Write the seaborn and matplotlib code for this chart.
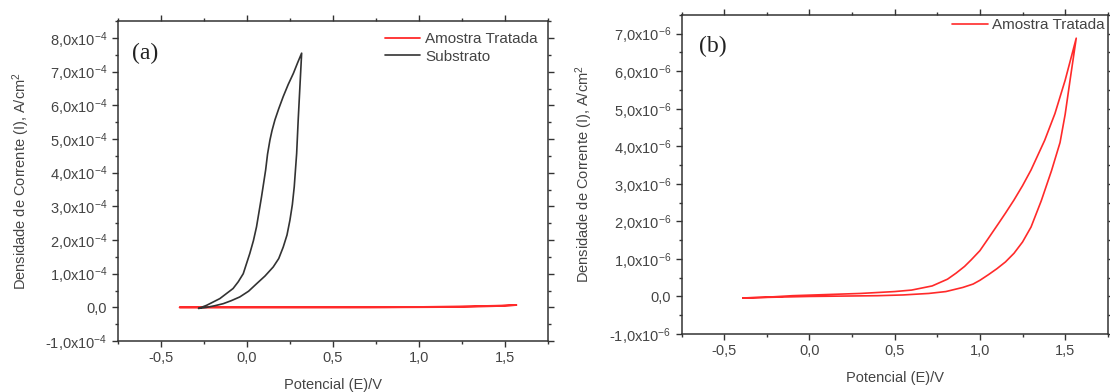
import numpy as np
import pandas as pd
import matplotlib
matplotlib.use("Agg")
import matplotlib.pyplot as plt
import seaborn as sns
from matplotlib.ticker import MultipleLocator, FixedLocator, FixedFormatter

# ---- data ----
# Amostra Tratada (A/cm^2, in units of 1e-6), forward then reverse scan
trat_E_fwd = [-0.39, -0.2, 0.0, 0.2, 0.4, 0.55, 0.7, 0.8, 0.9, 0.96, 1.0, 1.05, 1.1, 1.15, 1.2, 1.25, 1.3, 1.36, 1.42, 1.47, 1.50, 1.53, 1.565]
trat_I_fwd = [-0.04, -0.02, 0.0, 0.01, 0.02, 0.04, 0.08, 0.13, 0.24, 0.33, 0.43, 0.58, 0.74, 0.92, 1.15, 1.45, 1.85, 2.55, 3.35, 4.1, 4.85, 5.8, 6.88]
trat_E_rev = [1.565, 1.50, 1.44, 1.38, 1.30, 1.25, 1.20, 1.15, 1.11, 1.05, 1.0, 0.95, 0.91, 0.86, 0.81, 0.72, 0.6, 0.5, 0.3, 0.1, -0.1, -0.25, -0.39]
trat_I_rev = [6.88, 5.76, 4.87, 4.16, 3.37, 2.95, 2.57, 2.22, 1.95, 1.55, 1.22, 0.98, 0.8, 0.62, 0.46, 0.28, 0.17, 0.13, 0.08, 0.05, 0.02, -0.02, -0.04]

# Substrato (units of 1e-4)
sub_E_fwd = [-0.28, -0.234, -0.185, -0.137, -0.09, -0.041, 0.01, 0.056, 0.105, 0.153, 0.185, 0.211, 0.233, 0.25, 0.264, 0.275, 0.289, 0.298, 0.308, 0.318]
sub_I_fwd = [-0.03, 0.0, 0.05, 0.11, 0.2, 0.31, 0.48, 0.70, 0.93, 1.2, 1.45, 1.79, 2.15, 2.59, 3.05, 3.58, 4.57, 5.57, 6.56, 7.55]
sub_E_rev = [0.318, 0.295, 0.27, 0.24, 0.211, 0.185, 0.163, 0.146, 0.134, 0.12, 0.109, 0.097, 0.085, 0.071, 0.056, 0.038, 0.017, -0.021, -0.05, -0.08, -0.157, -0.234, -0.28]
sub_I_rev = [7.55, 7.27, 6.95, 6.62, 6.26, 5.9, 5.57, 5.25, 4.97, 4.55, 4.08, 3.68, 3.28, 2.85, 2.39, 1.98, 1.6, 1.0, 0.76, 0.56, 0.26, 0.06, -0.03]

x_ticks = [-0.5, 0.0, 0.5, 1.0, 1.5]
x_labels = ["-0,5", "0,0", "0,5", "1,0", "1,5"]
ya_ticks = [-1, 0, 1, 2, 3, 4, 5, 6, 7, 8]
yb_ticks = [-1, 0, 1, 2, 3, 4, 5, 6, 7]

sns.set_style("ticks")
plt.rcParams['font.family'] = ['Liberation Sans', 'DejaVu Sans']
plt.rcParams['mathtext.fontset'] = 'custom'
plt.rcParams['mathtext.rm'] = 'Liberation Sans'
plt.rcParams['mathtext.it'] = 'Liberation Sans'

TXT = '#444444'
RED = '#ff2a2a'
DARK = '#333333'

def ylab(v, exp):
    if v == 0:
        return "0,0"
    s = f"{v:.1f}".replace(".", ",")
    return s + "x10$^{" + exp + "}$"

def make_df(E1, I1, E2, I2, scale):
    E = list(E1) + list(E2)
    I = [v * scale for v in list(I1) + list(I2)]
    return pd.DataFrame({"E": E, "I": I})

fig = plt.figure(figsize=(11.1, 3.92), dpi=100)
axa = fig.add_axes([0.106, 0.130, 0.388, 0.816])
axb = fig.add_axes([0.614, 0.148, 0.384, 0.814])

df_t = make_df(trat_E_fwd, trat_I_fwd, trat_E_rev, trat_I_rev, 1e-6)
df_s = make_df(sub_E_fwd, sub_I_fwd, sub_E_rev, sub_I_rev, 1e-4)

sns.lineplot(data=df_t, x="E", y="I", sort=False, estimator=None, ax=axa, color=RED, lw=1.3, label="Amostra Tratada")
sns.lineplot(data=df_s, x="E", y="I", sort=False, estimator=None, ax=axa, color=DARK, lw=1.2, label="Substrato")
sns.lineplot(data=df_t, x="E", y="I", sort=False, estimator=None, ax=axb, color=RED, lw=1.2, label="Amostra Tratada")

def style(ax, yt, exp, scale, ylim, ypad):
    ax.set_xlim(-0.75, 1.75)
    ax.set_ylim(*ylim)
    ax.xaxis.set_major_locator(FixedLocator(x_ticks))
    ax.xaxis.set_major_formatter(FixedFormatter(x_labels))
    ax.xaxis.set_minor_locator(MultipleLocator(0.25))
    ax.yaxis.set_major_locator(FixedLocator([v * scale for v in yt]))
    ax.yaxis.set_major_formatter(FixedFormatter([ylab(v, exp) for v in yt]))
    ax.yaxis.set_minor_locator(MultipleLocator(0.5 * scale))
    ax.tick_params(which='both', direction='out', top=True, right=True, colors='#333333',
                   labelcolor=TXT, labelsize=10.5, width=1.0)
    ax.tick_params(which='major', length=4.5, pad=3)
    ax.tick_params(which='minor', length=2.5)
    for sp in ax.spines.values():
        sp.set_color('#333333')
        sp.set_linewidth(1.1)
    ax.set_xlabel("Potencial (E)/V", color=TXT, fontsize=10.5, labelpad=9)
    ax.set_ylabel("Densidade de Corrente (I), A/cm$^2$", color=TXT, fontsize=10.5, labelpad=ypad)

style(axa, ya_ticks, "-4", 1e-4, (-1e-4, 8.5e-4), 9)
style(axb, yb_ticks, "-6", 1e-6, (-1e-6, 7.5e-6), 10)

axa.text(0.033, 0.9, "(a)", transform=axa.transAxes, fontsize=17, family='Liberation Serif', color='#222222', va='center')
axb.text(0.04, 0.9, "(b)", transform=axb.transAxes, fontsize=17, family='Liberation Serif', color='#222222', va='center')

la = axa.legend(loc='upper right', frameon=False, fontsize=11, handlelength=2.3, handletextpad=0.3,
                borderaxespad=0.3, labelspacing=0.25)
for t in la.get_texts():
    t.set_color(TXT)
lb = axb.legend(loc='upper right', frameon=False, fontsize=11, handlelength=2.3, handletextpad=0.3,
                borderaxespad=0.0, borderpad=0.2)
for t in lb.get_texts():
    t.set_color(TXT)

fig.savefig("out.png", dpi=100)
